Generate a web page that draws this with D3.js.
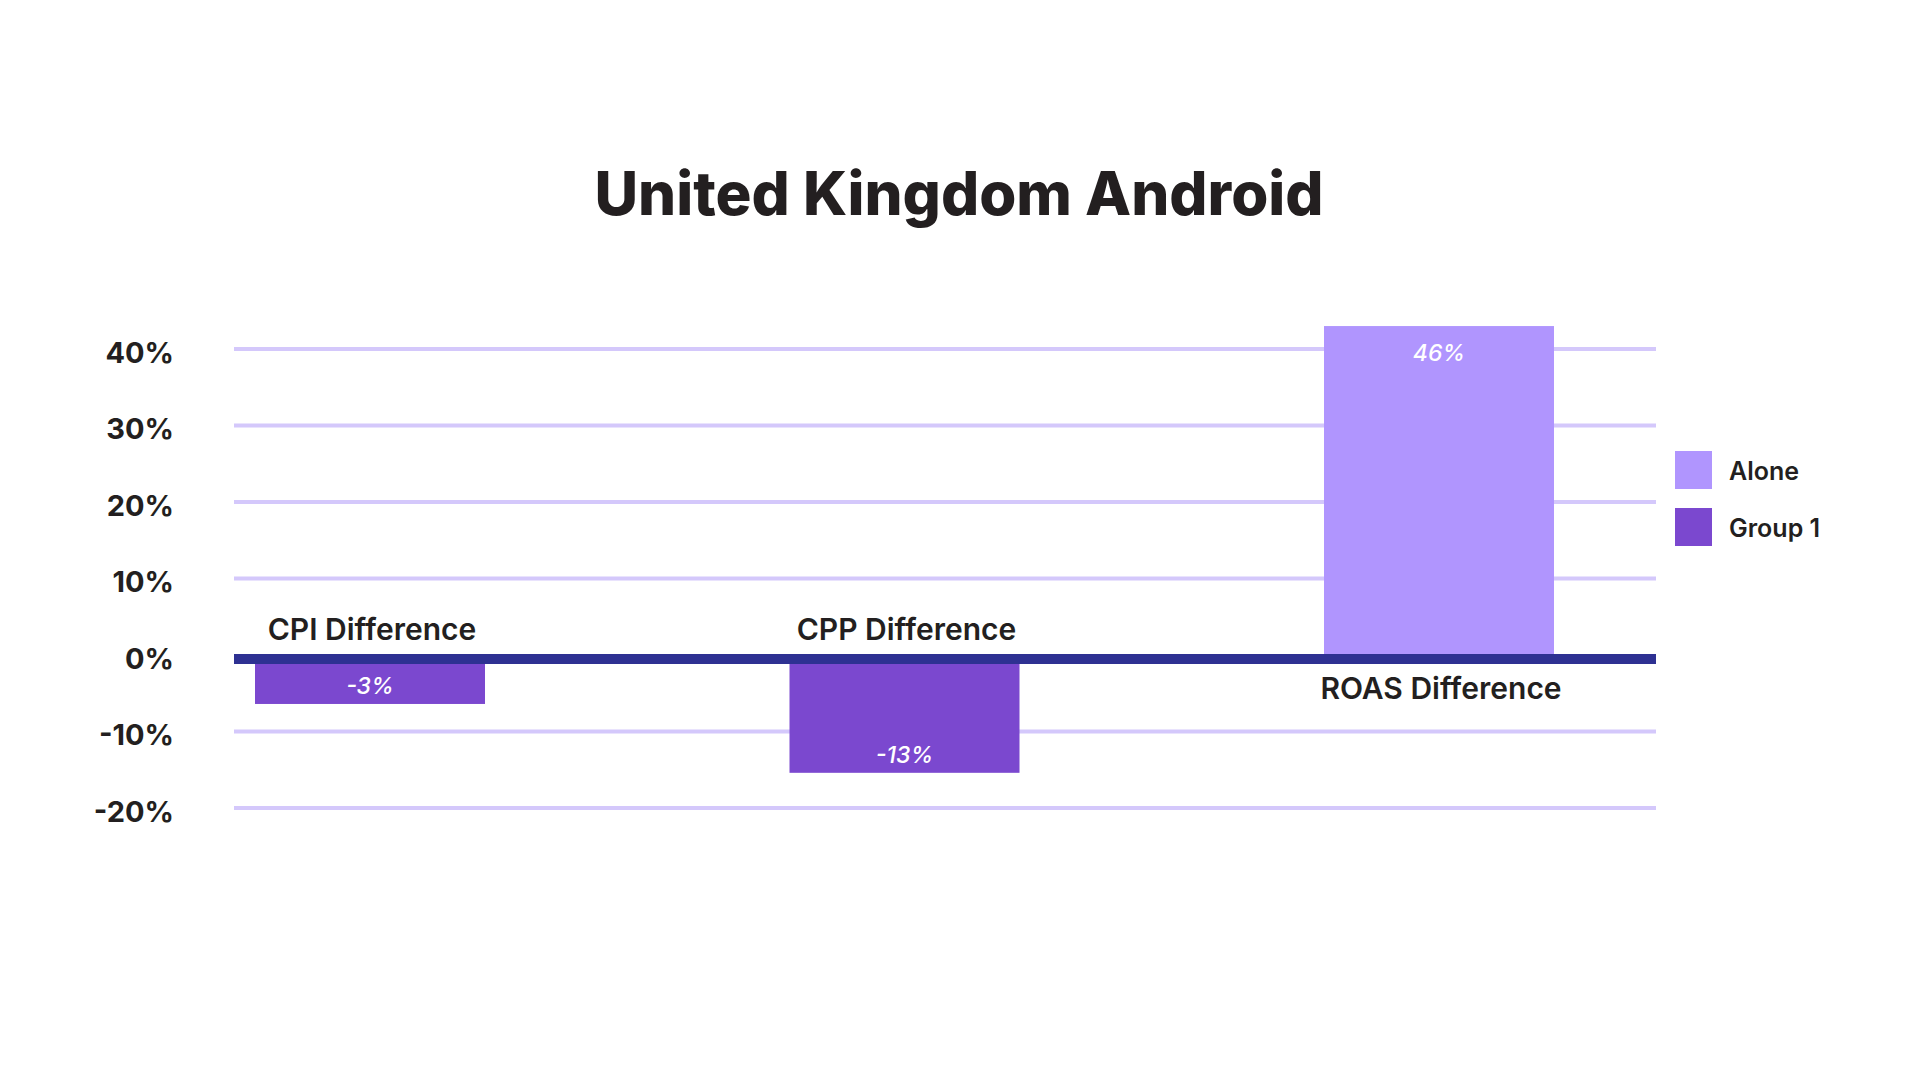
<!DOCTYPE html>
<html>
<head>
<meta charset="utf-8">
<script src="https://cdn.jsdelivr.net/npm/d3@7"></script>
<style>
  body { margin: 0; background: #fff; }
  svg text { font-family: Inter, "Open Sans", sans-serif; fill: #231f20; }
</style>
</head>
<body>
<svg class="main"></svg>
<script>
// data
let categories = ['CPI Difference', 'CPP Difference', 'ROAS Difference'];
let barValues = [-6.4, -15.4, 43];          // bar heights as drawn
let valueLabels = ['-3%', '-13%', '46%'];     // labels printed on the bars
let barSeries = ['Group 1', 'Group 1', 'Alone'];
let seriesNames = ['Alone', 'Group 1'];
let seriesColors = ['#b095fe', '#7b48cf'];
let yTicks = [-20, -10, 0, 10, 20, 30, 40];

let w = 1920, h = 1080;

let svg = d3.select('.main')
  .attr('width', w)
  .attr('height', h)
  .style('background-color', '#fff');

let color = d3.scaleOrdinal().domain(seriesNames).range(seriesColors);

let y = d3.scaleLinear()
  .domain([-20, 40])
  .range([808, 349]);

let x = d3.scalePoint()
  .domain(categories)
  .range([370, 1439]);

let barW = 230;
let gridLeft = 234, gridRight = 1656;

// title
svg.append('text')
  .attr('x', 959)
  .attr('y', 215)
  .attr('text-anchor', 'middle')
  .style('font-size', '60px')
  .style('font-weight', 800)
  .text('United Kingdom Android');

// gridlines
svg.append('g')
  .selectAll('line')
  .data(yTicks.filter(d => d !== 0))
  .enter()
  .append('line')
  .attr('x1', gridLeft)
  .attr('x2', gridRight)
  .attr('y1', d => y(d))
  .attr('y2', d => y(d))
  .attr('stroke', '#d4c8fb')
  .attr('stroke-width', 4);

// y labels
let yAxis = svg.append('g')
  .attr('transform', 'translate(174,4)')
  .call(d3.axisLeft(y).tickValues(yTicks).tickFormat(d => d + '%').tickSize(0).tickPadding(0));
yAxis.select('.domain').remove();
yAxis.selectAll('text')
  .style('font-size', '29px')
  .style('font-weight', 700)
  .style('fill', '#231f20')
  .style('font-family', 'Inter, sans-serif');

// bars
let bars = svg.append('g')
  .selectAll('rect')
  .data(categories)
  .enter()
  .append('rect')
  .attr('x', d => x(d) - barW / 2)
  .attr('width', barW)
  .attr('y', (d, i) => y(Math.max(0, barValues[i])))
  .attr('height', (d, i) => Math.abs(y(barValues[i]) - y(0)))
  .attr('fill', (d, i) => color(barSeries[i]));

// zero line
svg.append('line')
  .attr('x1', gridLeft)
  .attr('x2', gridRight)
  .attr('y1', y(0) + 4)
  .attr('y2', y(0) + 4)
  .attr('stroke', '#2e3192')
  .attr('stroke-width', 10);

// value labels inside the bars
svg.append('g')
  .selectAll('text')
  .data(categories)
  .enter()
  .append('text')
  .attr('x', d => x(d))
  .attr('y', (d, i) => barValues[i] < 0 ? y(barValues[i]) - 10 : y(barValues[i]) + 35)
  .attr('text-anchor', 'middle')
  .style('font-size', '23px')
  .style('font-style', 'italic')
  .style('font-weight', 500)
  .style('fill', '#fff')
  .text((d, i) => valueLabels[i]);

// category labels, on the other side of the zero line
svg.append('g')
  .selectAll('text')
  .data(categories)
  .enter()
  .append('text')
  .attr('x', d => x(d) + 2)
  .attr('y', (d, i) => barValues[i] < 0 ? y(0) - 15 : y(0) + 44)
  .attr('text-anchor', 'middle')
  .style('font-size', '30px')
  .style('font-weight', 600)
  .text(d => d);

// legend
let legend = svg.append('g')
  .attr('transform', 'translate(1675,451)')
  .selectAll('g')
  .data(seriesNames)
  .enter()
  .append('g')
  .attr('transform', (d, i) => `translate(0,${i * 57})`);

legend.append('rect')
  .attr('width', 37)
  .attr('height', 38)
  .attr('fill', d => color(d));

legend.append('text')
  .attr('x', 54)
  .attr('y', 29)
  .style('font-size', '25px')
  .style('font-weight', 600)
  .text(d => d);
</script>
</body>
</html>
